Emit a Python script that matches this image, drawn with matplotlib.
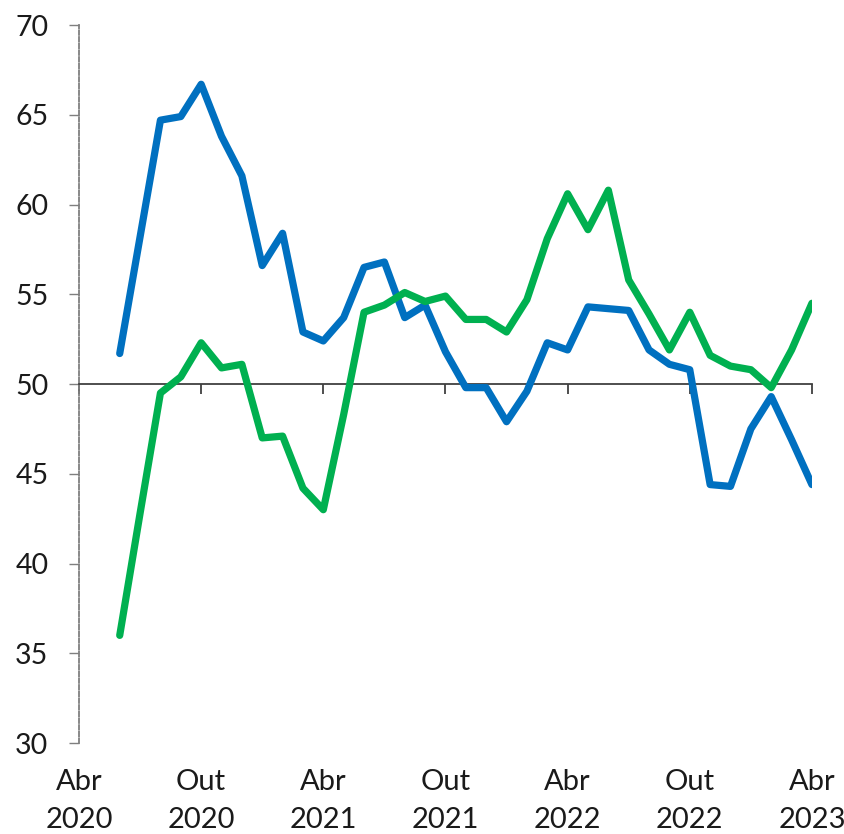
import numpy as np
import matplotlib
matplotlib.use("Agg")
import matplotlib.pyplot as plt

plt.rcParams["font.family"] = ["Lato", "DejaVu Sans"]

# months counted from Abr 2020 (= 0); series run Jun 2020 .. Abr 2023
months = np.arange(2, 37)
blue = [51.7, 58.2, 64.7, 64.9, 66.7, 63.8, 61.6, 56.6, 58.4, 52.9, 52.4,
        53.7, 56.5, 56.8, 53.7, 54.4, 51.8, 49.8, 49.8, 47.9, 49.6, 52.3,
        51.9, 54.3, 54.2, 54.1, 51.9, 51.1, 50.8, 44.4, 44.3, 47.5, 49.3,
        46.9, 44.4]
green = [36.0, 42.8, 49.5, 50.4, 52.3, 50.9, 51.1, 47.0, 47.1, 44.2, 43.0,
         48.3, 54.0, 54.4, 55.1, 54.6, 54.9, 53.6, 53.6, 52.9, 54.7, 58.1,
         60.6, 58.6, 60.8, 55.8, 53.9, 51.9, 54.0, 51.6, 51.0, 50.8, 49.8,
         51.9, 54.5]

tick_pos = [0, 6, 12, 18, 24, 30, 36]
tick_labels = ["Abr\n2020", "Out\n2020", "Abr\n2021", "Out\n2021",
               "Abr\n2022", "Out\n2022", "Abr\n2023"]
y_ticks = [30, 35, 40, 45, 50, 55, 60, 65, 70]

fig = plt.figure(figsize=(8.44, 8.34), dpi=100)
ax = fig.add_axes([0.0936, 0.109, 0.8684, 0.861])

ax.plot(months, blue, color="#0070C0", lw=5.2, solid_capstyle="round",
        solid_joinstyle="round", zorder=3)
ax.plot(months, green, color="#00B050", lw=5.2, solid_capstyle="round",
        solid_joinstyle="round", zorder=3)

ax.set_xlim(0, 36)
ax.set_ylim(30, 70)

# y axis: dashed grey spine
ax.spines["left"].set_linestyle((0, (2.5, 1.2)))
ax.spines["left"].set_color("#7f7f7f")
ax.spines["left"].set_linewidth(1.3)
ax.spines["right"].set_visible(False)
ax.spines["top"].set_visible(False)
ax.set_yticks(y_ticks)
ax.tick_params(axis="y", length=7, width=1, color="#7f7f7f",
               labelsize=20.5, pad=15, labelcolor="#1a1a1a")

# x axis crosses at 50
ax.spines["bottom"].set_position(("data", 50))
ax.spines["bottom"].set_color("#404040")
ax.spines["bottom"].set_linewidth(1.3)
ax.set_xticks(tick_pos)
ax.tick_params(axis="x", length=7, width=1.3, color="#404040",
               labelbottom=False)

# labels sit below the plot area
sec = ax.secondary_xaxis(0)
sec.set_xticks(tick_pos)
sec.set_xticklabels(tick_labels, linespacing=1.55)
sec.tick_params(length=0, labelsize=21, pad=19, labelcolor="#1a1a1a")
sec.spines["bottom"].set_visible(False)

fig.savefig("out.png", dpi=100)
